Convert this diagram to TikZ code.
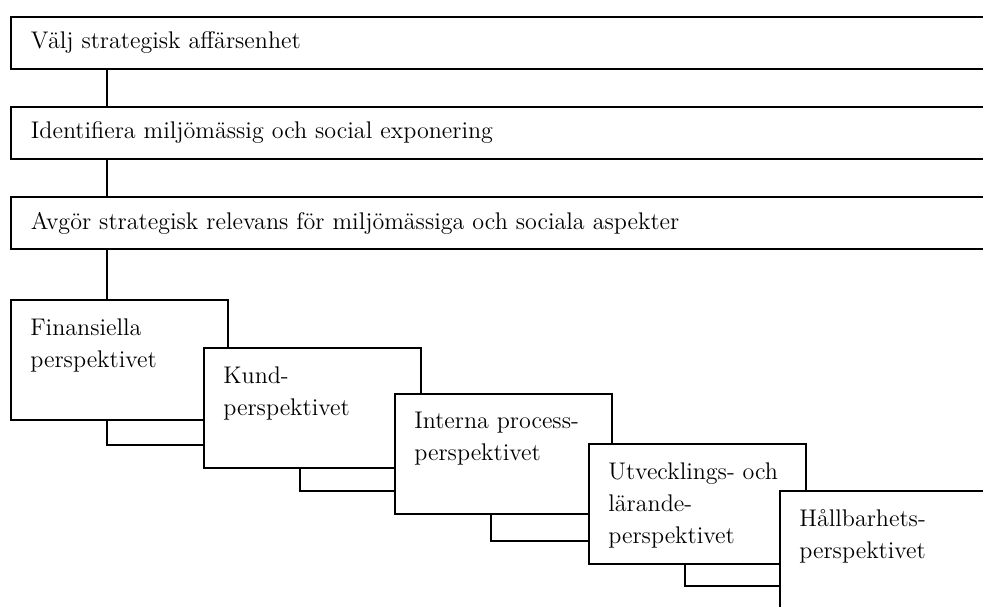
\documentclass[tikz,border=0pt]{standalone}
\usepackage{tikz}
\usetikzlibrary{calc}

\begin{document}
\begin{tikzpicture}[x=0.02cm,y=-0.02cm,
	stegbox/.style={draw,line width=1.1pt,fill=white,anchor=north west,
		text width=19cm,inner xsep=0.4cm,minimum height=1.04cm,align=left,
		font=\fontsize{13.7}{18.5}\selectfont},
	persp/.style={draw,line width=1.1pt,fill=white,anchor=north west,
		minimum width=4.34cm,minimum height=2.4cm},
	ptext/.style={anchor=north west,align=left,inner sep=0pt,
		xshift=0.4cm,yshift=-0.38cm,font=\fontsize{13.7}{18.3}\selectfont},
	conn/.style={line width=0.8pt}]
	\useasboundingbox (0,0) rectangle (983,606);
	\clip (0,0) rectangle (983,606);
		\node[stegbox] (valj) at (10,16) {Välj strategisk affärsenhet};
		\node[stegbox] (ident) at (10,106) {Identifiera miljömässig och social exponering};
		\node[stegbox] (avgor) at (10,196) {Avgör strategisk relevans för miljömässiga och sociala aspekter};
		\draw[conn] ($(valj.south west)+(97,0)$) -- ($(ident.north west)+(97,0)$);
		\draw[conn] ($(ident.south west)+(97,0)$) -- ($(avgor.north west)+(97,0)$);
		\node[persp,label={[ptext]north west:Finansiella\\perspektivet}] (fin) at (10,299) {};
		\draw[conn] ($(avgor.south west)+(97,0)$) -- ($(fin.north west)+(97,0)$);
		\node[persp,label={[ptext]north west:Kund-\\perspektivet}] (kund) at (203,347) {};
		\node[persp,label={[ptext]north west:Interna process-\\perspektivet}] (interna) at (394,393) {};
		\node[persp,label={[ptext]north west:Utvecklings- och\\lärande-\\perspektivet}] (utv) at (588,443) {};
		\node[persp,minimum width=5cm,minimum height=3cm,label={[ptext]north west:Hållbarhets-\\perspektivet}] (hall) at (779,490) {};
	% connectors between the perspectives
		\draw[conn] ($(fin.south west)+(97,0)$) |- ($(kund.south west)+(0,-24)$);
		\draw[conn] ($(kund.south west)+(97,0)$) |- ($(interna.south west)+(0,-24)$);
		\draw[conn] ($(interna.south west)+(97,0)$) |- ($(utv.south west)+(0,-24)$);
		\draw[conn] ($(utv.south west)+(97,0)$) |- ($(hall.north west)+(0,96)$);
\end{tikzpicture}
\end{document}
